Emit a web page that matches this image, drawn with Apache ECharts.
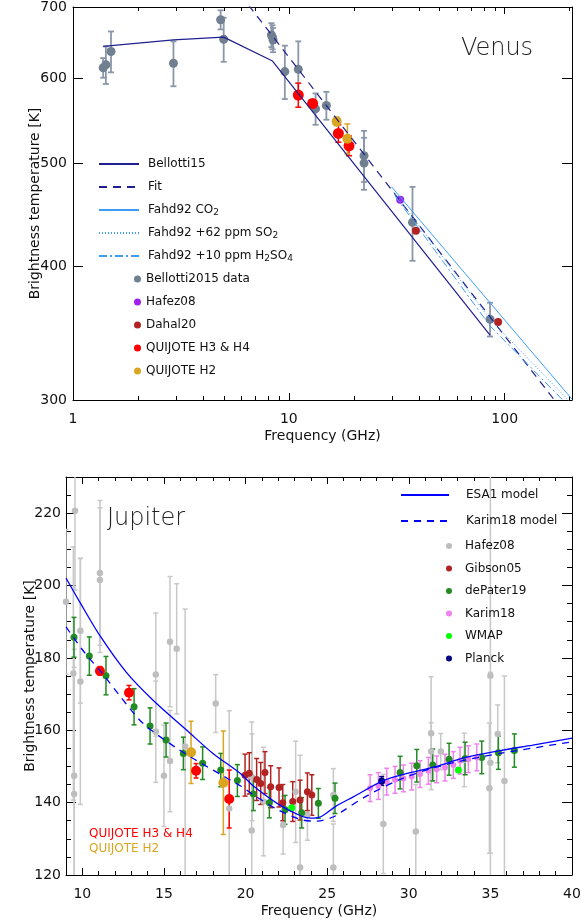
<!DOCTYPE html>
<html>
<head>
<meta charset="UTF-8">
<title>Venus and Jupiter brightness temperature</title>
<style>html,body{margin:0;padding:0;background:#fff;}</style>
</head>
<body>
<div id="main" style="width: 581px;height:921px;"></div>
<script src="https://cdn.jsdelivr.net/npm/echarts@6/dist/echarts.min.js"></script>
<script type="text/javascript">
// ---------- Venus (log-log), [GHz, K] ----------
var bellotti15Line = [[1.38, 643], [2.92, 652], [4.99, 656], [8.4, 623], [85.5, 345]];
var fitLine = [[6.5, 703], [172, 299]];
var fahdCO2Line = [[29.9, 475], [205, 300.5]];
var fahdSO2Line = [[30.5, 470], [85.5, 357], [200, 299]];
var fahdH2SO4Line = [[31, 466], [85.5, 352], [195, 297]];
// [GHz, K, error]
var bellottiData = [[1.38, 614, 13], [1.42, 618, 25], [1.50, 636, 28], [2.92, 620, 30], [4.83, 681, 14],
  [4.99, 653, 31], [8.3, 659, 17], [8.4, 656, 17], [8.45, 652, 17], [9.58, 609, 35], [11.06, 612, 38],
  [13.3, 562, 19], [14.92, 566, 17], [22.3, 508, 28], [22.3, 500, 28], [37.4, 440, 35], [85.5, 357, 13]];
var hafezVenus = [[32.8, 462, 0]];
var dahalVenus = [[38.8, 432, 0], [93.2, 355, 0]];
var quijoteVenus34 = [[11.06, 579, 15], [12.88, 568.5, 4], [16.96, 533, 10], [19.0, 519, 11]];
var quijoteVenus2 = [[16.65, 547, 5], [18.67, 527, 17]];

var venusFreqLabels = [1, 10, 100];
var venusFreqMajor = [10, 100];
var venusFreqMinor = [2, 3, 4, 5, 6, 7, 8, 9, 20, 30, 40, 50, 60, 70, 80, 90, 200];
var venusTempLabels = [300, 400, 500, 600, 700];
var venusTempTicks = [400, 500, 600];

// ---------- Jupiter, [GHz, K] ----------
var esa1Model = [[9.0, 202.1], [9.9, 195], [11.1, 186], [12.7, 176], [14.4, 168], [16.4, 160], [18.0, 153.6],
  [19.7, 148], [20.5, 144.5], [22.1, 139.3], [23.4, 136.3], [24.0, 135.7], [24.6, 136.1], [25.5, 138.9],
  [26.6, 141.6], [28.4, 146], [29.5, 147.6], [31.5, 149.8], [33.5, 152.5], [35.6, 154.4], [37.6, 155.9], [40.0, 157.8]];
var karimModel = [[9.0, 188.6], [10.1, 181.7], [11.3, 175.3], [12.3, 169.5], [13.7, 162], [15.8, 155], [18.0, 149],
  [19.7, 144.6], [20.5, 142.1], [22.0, 138], [23.5, 135.2], [24.4, 134.9], [25.4, 136.1], [26.0, 137.8],
  [27.4, 141.8], [29.5, 146.5], [31.5, 149.6], [33.5, 151.8], [35.6, 153.6], [40.0, 156.8]];
// [GHz, K, error]
var hafezJup = [[9.0, 195.5, 20], [9.45, 175.7, 35], [9.55, 220.7, 22], [9.5, 147.4, 35], [9.5, 142.4, 35],
  [9.88, 187.5, 20], [9.88, 173.5, 34], [11.08, 203.5, 20], [11.08, 201.5, 20], [14.5, 175.4, 17],
  [14.5, 159.6, 14], [15.37, 184.5, 18], [15.78, 182.5, 18], [15.37, 151.5, 14], [15.0, 147.4, 14],
  [16.3, 155.5, 38], [18.17, 167.4, 8], [19.0, 138.4, 27], [20.38, 132.3, 30], [20.4, 147, 12],
  [21.1, 140.3, 15], [22.3, 133.8, 8], [23.07, 143.0, 14], [23.34, 122.1, 31], [23.79, 136.6, 7],
  [25.38, 142.1, 7.3], [25.38, 122.1, 12], [28.44, 134.1, 13.7], [30.43, 132.0, 13], [31.37, 159.2, 15.6],
  [31.37, 154.1, 8], [31.96, 154.1, 5], [33.4, 151.8, 7.4], [34.94, 144.0, 18], [35.0, 151.0, 25],
  [35.0, 175.1, 60], [35.45, 159.0, 8], [35.86, 146.0, 29]];
var gibson05 = [[19.97, 147.6, 5.8], [20.23, 148.1, 5.7], [20.68, 146.4, 5.8], [20.93, 145.3, 5.8], [21.19, 148.3, 5.8],
  [21.54, 144.4, 5.8], [22.05, 144.2, 5.4], [22.28, 140.0, 5], [22.89, 140.3, 5.5], [23.34, 140.7, 5.5],
  [23.79, 143.0, 5.2], [24.06, 142.1, 5.6]];
var dePater19 = [[9.49, 185.7, 5.5], [10.43, 180.5, 5.3], [11.45, 175.1, 5.3], [13.17, 166.5, 5], [14.15, 161.2, 5],
  [15.13, 157.3, 4.7], [16.19, 153.6, 4.5], [17.37, 150.9, 4.5], [18.48, 149.0, 4.6], [19.5, 146.1, 4.4],
  [20.48, 142.4, 4.6], [21.46, 140.0, 4.2], [22.42, 138.0, 4], [23.44, 137.2, 4.2], [24.46, 139.8, 4.1],
  [25.48, 141.2, 4.2], [29.47, 148.3, 4.5], [30.49, 150.2, 4.5], [31.47, 150.4, 4.4], [32.47, 152.0, 4.4],
  [33.45, 152.2, 4.5], [34.47, 152.5, 4.5], [35.49, 153.8, 4.6], [36.47, 154.4, 4.6]];
var karim18 = [[27.63, 144.0, 3.7], [28.14, 144.6, 3.7], [28.65, 145.8, 3.7], [29.16, 146.3, 3.7], [29.67, 146.7, 3.7],
  [30.18, 147.2, 3.7], [30.69, 147.9, 3.7], [31.2, 148.8, 3.7], [31.71, 149.2, 3.7], [32.22, 149.7, 3.7],
  [32.73, 150.4, 3.7], [33.14, 151.6, 3.7], [33.65, 152.0, 3.7], [34.17, 152.5, 3.7]];
var wmap = [[22.83, 138.6, 0], [33.04, 149.0, 0]];
var planck = [[28.34, 146.0, 1.2]];
var quijoteJup34 = [[11.08, 176.4, 1.2], [12.86, 170.4, 2], [16.97, 148.8, 2], [19.0, 141.0, 8]];
var quijoteJup2 = [[16.66, 153.9, 8.6], [18.64, 145.5, 14.3]];

var jupFreqLabels = [10, 15, 20, 25, 30, 35, 40];
var jupFreqMinor = [10, 11, 12, 13, 14, 15, 16, 17, 18, 19, 20, 21, 22, 23, 24, 25, 26, 27, 28, 29,
  30, 31, 32, 33, 34, 35, 36, 37, 38, 39];
var jupTempLabels = [120, 140, 160, 180, 200, 220];
var jupTempMinor = [125, 130, 135, 145, 150, 155, 165, 170, 175, 185, 190, 195, 205, 210, 215, 225];

var font = 'DejaVu Sans';
var navy = '#1f1f8f';
var fahdBlue = '#3d9df5';

var myChart = echarts.init(document.getElementById('main'));

function frameAxis(grid, type, min, max, pos, ticks, len, showLine) {
  return {
    gridIndex: grid, type: type, min: min, max: max, position: pos,
    axisLine: {show: showLine, onZero: false, lineStyle: {color: '#000', width: 1}},
    axisTick: {show: true, inside: true, length: len, customValues: ticks, lineStyle: {color: '#000', width: 1}},
    axisLabel: {show: false},
    splitLine: {show: false}
  };
}

function withLabels(ax, labels, margin, name, nameGap, rotate) {
  ax.axisLabel = {show: true, customValues: labels, margin: margin, fontSize: 14, fontFamily: font, color: '#111'};
  ax.name = name;
  ax.nameLocation = 'middle';
  ax.nameGap = nameGap;
  ax.nameMoveOverlap = false;
  if (rotate) ax.nameRotate = 90;
  ax.nameTextStyle = {fontSize: 14, fontFamily: font, color: '#111'};
  return ax;
}

function errSeries(data, xi, yi, color, width, cap) {
  return {
    type: 'custom', xAxisIndex: xi, yAxisIndex: yi, clip: true, silent: true,
    data: data.filter(function (d) { return d[2] > 0; }).map(function (d) { return [d[0], d[1] - d[2], d[1] + d[2]]; }),
    encode: {x: 0, y: [1, 2]},
    renderItem: function (params, api) {
      var lo = api.coord([api.value(0), api.value(1)]);
      var hi = api.coord([api.value(0), api.value(2)]);
      function seg(x1, y1, x2, y2) {
        return {type: 'line', shape: {x1: x1, y1: y1, x2: x2, y2: y2}, style: {stroke: color, lineWidth: width}};
      }
      return {type: 'group', children: [
        seg(lo[0], lo[1], hi[0], hi[1]),
        seg(lo[0] - cap, lo[1], lo[0] + cap, lo[1]),
        seg(hi[0] - cap, hi[1], hi[0] + cap, hi[1])
      ]};
    }
  };
}

function ptSeries(name, data, xi, yi, color, size) {
  return {
    name: name, type: 'scatter', xAxisIndex: xi, yAxisIndex: yi, symbolSize: size,
    data: data.map(function (d) { return [d[0], d[1]]; }),
    itemStyle: {color: color, opacity: 1}
  };
}

function lineSeries(name, data, xi, yi, color, width, dash, smooth) {
  return {
    name: name, type: 'line', xAxisIndex: xi, yAxisIndex: yi, data: data, symbol: 'none',
    smooth: smooth || false, lineStyle: {color: color, width: width, type: dash || 'solid'},
    itemStyle: {color: color}
  };
}

var subNames = {
  'Fahd92 CO2': '{t|Fahd92 CO}{s|2}',
  'Fahd92 +62 ppm SO2': '{t|Fahd92 +62 ppm SO}{s|2}',
  'Fahd92 +10 ppm H2SO4': '{t|Fahd92 +10 ppm H}{s|2}{t|SO}{s|4}'
};
var legendText = {
  color: '#111', fontFamily: font, fontSize: 12, lineHeight: 14,
  rich: {
    t: {fontFamily: font, fontSize: 12, lineHeight: 14, color: '#111'},
    s: {fontFamily: font, fontSize: 9, lineHeight: 6, verticalAlign: 'bottom', color: '#111'}
  }
};
function legendFormatter(name) { return subNames[name] || '{t|' + name + '}'; }

var venusX = withLabels(frameAxis(0, 'log', 1, 205, 'bottom', venusFreqMajor, 7, true), venusFreqLabels, 12, 'Frequency (GHz)', 29);
var venusY = withLabels(frameAxis(0, 'log', 300, 700, 'left', venusTempTicks, 10, true), venusTempLabels, 6, 'Brightness temperature [K]', 31, true);
var jupX = withLabels(frameAxis(1, 'value', 9, 40, 'bottom', jupFreqLabels, 7, true), jupFreqLabels, 12, 'Frequency (GHz)', 29);
var jupY = withLabels(frameAxis(1, 'value', 120, 230, 'left', jupTempLabels, 10, true), jupTempLabels, 5, 'Brightness temperature [K]', 29, true);

var option = {
  animation: false,
  backgroundColor: '#fff',
  grid: [
    {left: 73, top: 7, width: 499, height: 393, outerBoundsMode: 'none'},
    {left: 66, top: 477, width: 506, height: 398, outerBoundsMode: 'none'}
  ],
  xAxis: [
    venusX,
    frameAxis(0, 'log', 1, 205, 'top', venusFreqMajor, 7, true),
    frameAxis(0, 'log', 1, 205, 'bottom', venusFreqMinor, 4, false),
    frameAxis(0, 'log', 1, 205, 'top', venusFreqMinor, 4, false),
    jupX,
    frameAxis(1, 'value', 9, 40, 'top', jupFreqLabels, 7, true),
    frameAxis(1, 'value', 9, 40, 'bottom', jupFreqMinor, 4, false),
    frameAxis(1, 'value', 9, 40, 'top', jupFreqMinor, 4, false)
  ],
  yAxis: [
    venusY,
    frameAxis(0, 'log', 300, 700, 'right', venusTempTicks, 10, true),
    jupY,
    frameAxis(1, 'value', 120, 230, 'right', jupTempLabels, 10, true),
    frameAxis(1, 'value', 120, 230, 'left', jupTempMinor, 5, false),
    frameAxis(1, 'value', 120, 230, 'right', jupTempMinor, 5, false)
  ],
  legend: [
    {orient: 'vertical', left: 98, top: 157, padding: 0, itemWidth: 40, itemHeight: 10, itemGap: 9, selectedMode: false,
      itemStyle: {opacity: 0},
      data: ['Bellotti15', 'Fit', 'Fahd92 CO2', 'Fahd92 +62 ppm SO2', 'Fahd92 +10 ppm H2SO4'],
      formatter: legendFormatter, textStyle: Object.assign({padding: [0, 0, 0, 4]}, legendText)},
    {orient: 'vertical', left: 134, top: 272, padding: 0, itemWidth: 7, itemHeight: 7, itemGap: 9, icon: 'circle', selectedMode: false,
      data: ['Bellotti2015 data', 'Hafez08', 'Dahal20', 'QUIJOTE H3 & H4', 'QUIJOTE H2'],
      formatter: legendFormatter, textStyle: legendText},
    {orient: 'vertical', left: 400, top: 488, padding: 0, itemWidth: 48, itemHeight: 10, itemGap: 12, selectedMode: false,
      itemStyle: {opacity: 0},
      data: ['ESA1 model', 'Karim18 model'],
      textStyle: {color: '#111', fontFamily: font, fontSize: 12, lineHeight: 14, padding: [0, 0, 0, 12]}},
    {orient: 'vertical', left: 446, top: 539, padding: 0, itemWidth: 6, itemHeight: 6, itemGap: 8.5, icon: 'circle', selectedMode: false,
      data: ['Hafez08 ', 'Gibson05', 'dePater19', 'Karim18', 'WMAP', 'Planck'],
      formatter: function (n) { return n.trim(); },
      textStyle: {color: '#111', fontFamily: font, fontSize: 12, lineHeight: 14, padding: [0, 0, 0, 8]}}
  ],
  graphic: [
    {type: 'text', x: 497, y: 49, style: {text: 'Venus', fill: '#222', font: '200 24px "DejaVu Sans"', textAlign: 'center', textVerticalAlign: 'middle'}},
    {type: 'text', x: 146, y: 519, style: {text: 'Jupiter', fill: '#222', font: '200 24px "DejaVu Sans"', textAlign: 'center', textVerticalAlign: 'middle'}},
    {type: 'text', x: 89, y: 834, style: {text: 'QUIJOTE H3 & H4', fill: '#ff0000', font: '12px "DejaVu Sans"', textVerticalAlign: 'middle'}},
    {type: 'text', x: 89, y: 849, style: {text: 'QUIJOTE H2', fill: '#daa520', font: '12px "DejaVu Sans"', textVerticalAlign: 'middle'}}
  ],
  series: [
    // Venus
    lineSeries('Bellotti15', bellotti15Line, 0, 0, navy, 1.2),
    lineSeries('Fit', fitLine, 0, 0, navy, 1.2, [8, 6]),
    lineSeries('Fahd92 CO2', fahdCO2Line, 0, 0, fahdBlue, 1),
    lineSeries('Fahd92 +62 ppm SO2', fahdSO2Line, 0, 0, fahdBlue, 1, [1, 2]),
    lineSeries('Fahd92 +10 ppm H2SO4', fahdH2SO4Line, 0, 0, fahdBlue, 1, [8, 3, 2, 3]),
    errSeries(bellottiData, 0, 0, '#8a97a8', 1.8, 3),
    ptSeries('Bellotti2015 data', bellottiData, 0, 0, '#708090', 9),
    ptSeries('Hafez08', hafezVenus, 0, 0, '#a020f0', 8),
    ptSeries('Dahal20', dahalVenus, 0, 0, '#b22222', 8),
    errSeries(quijoteVenus34, 0, 0, '#ff0000', 1.5, 3),
    ptSeries('QUIJOTE H3 & H4', quijoteVenus34, 0, 0, '#ff0000', 11),
    errSeries(quijoteVenus2, 0, 0, '#daa520', 1.5, 3),
    ptSeries('QUIJOTE H2', quijoteVenus2, 0, 0, '#daa520', 10),
    // Jupiter
    errSeries(hafezJup, 4, 2, '#c8c8c8', 1.5, 2.5),
    ptSeries('Hafez08 ', hafezJup, 4, 2, '#bebebe', 6.5),
    lineSeries('ESA1 model', esa1Model, 4, 2, '#0000ff', 1.3, 'solid', 0.3),
    lineSeries('Karim18 model', karimModel, 4, 2, '#0000ff', 1.3, [7, 6], 0.3),
    errSeries(gibson05, 4, 2, '#b22222', 1.5, 2.5),
    ptSeries('Gibson05', gibson05, 4, 2, '#b22222', 7),
    errSeries(dePater19, 4, 2, '#228b22', 1.5, 2.5),
    ptSeries('dePater19', dePater19, 4, 2, '#228b22', 7),
    errSeries(karim18, 4, 2, '#ee82ee', 1.5, 2.5),
    ptSeries('Karim18', karim18, 4, 2, '#ee82ee', 6),
    ptSeries('WMAP', wmap, 4, 2, '#00ff00', 7),
    errSeries(planck, 4, 2, '#000080', 1.5, 2.5),
    ptSeries('Planck', planck, 4, 2, '#000080', 7),
    errSeries(quijoteJup34, 4, 2, '#ff0000', 1.5, 2.5),
    ptSeries('QUIJOTE H3 & H4 ', quijoteJup34, 4, 2, '#ff0000', 10),
    errSeries(quijoteJup2, 4, 2, '#daa520', 1.5, 2.5),
    ptSeries('QUIJOTE H2 ', quijoteJup2, 4, 2, '#daa520', 10)
  ]
};

myChart.setOption(option);
</script>
</body>
</html>
